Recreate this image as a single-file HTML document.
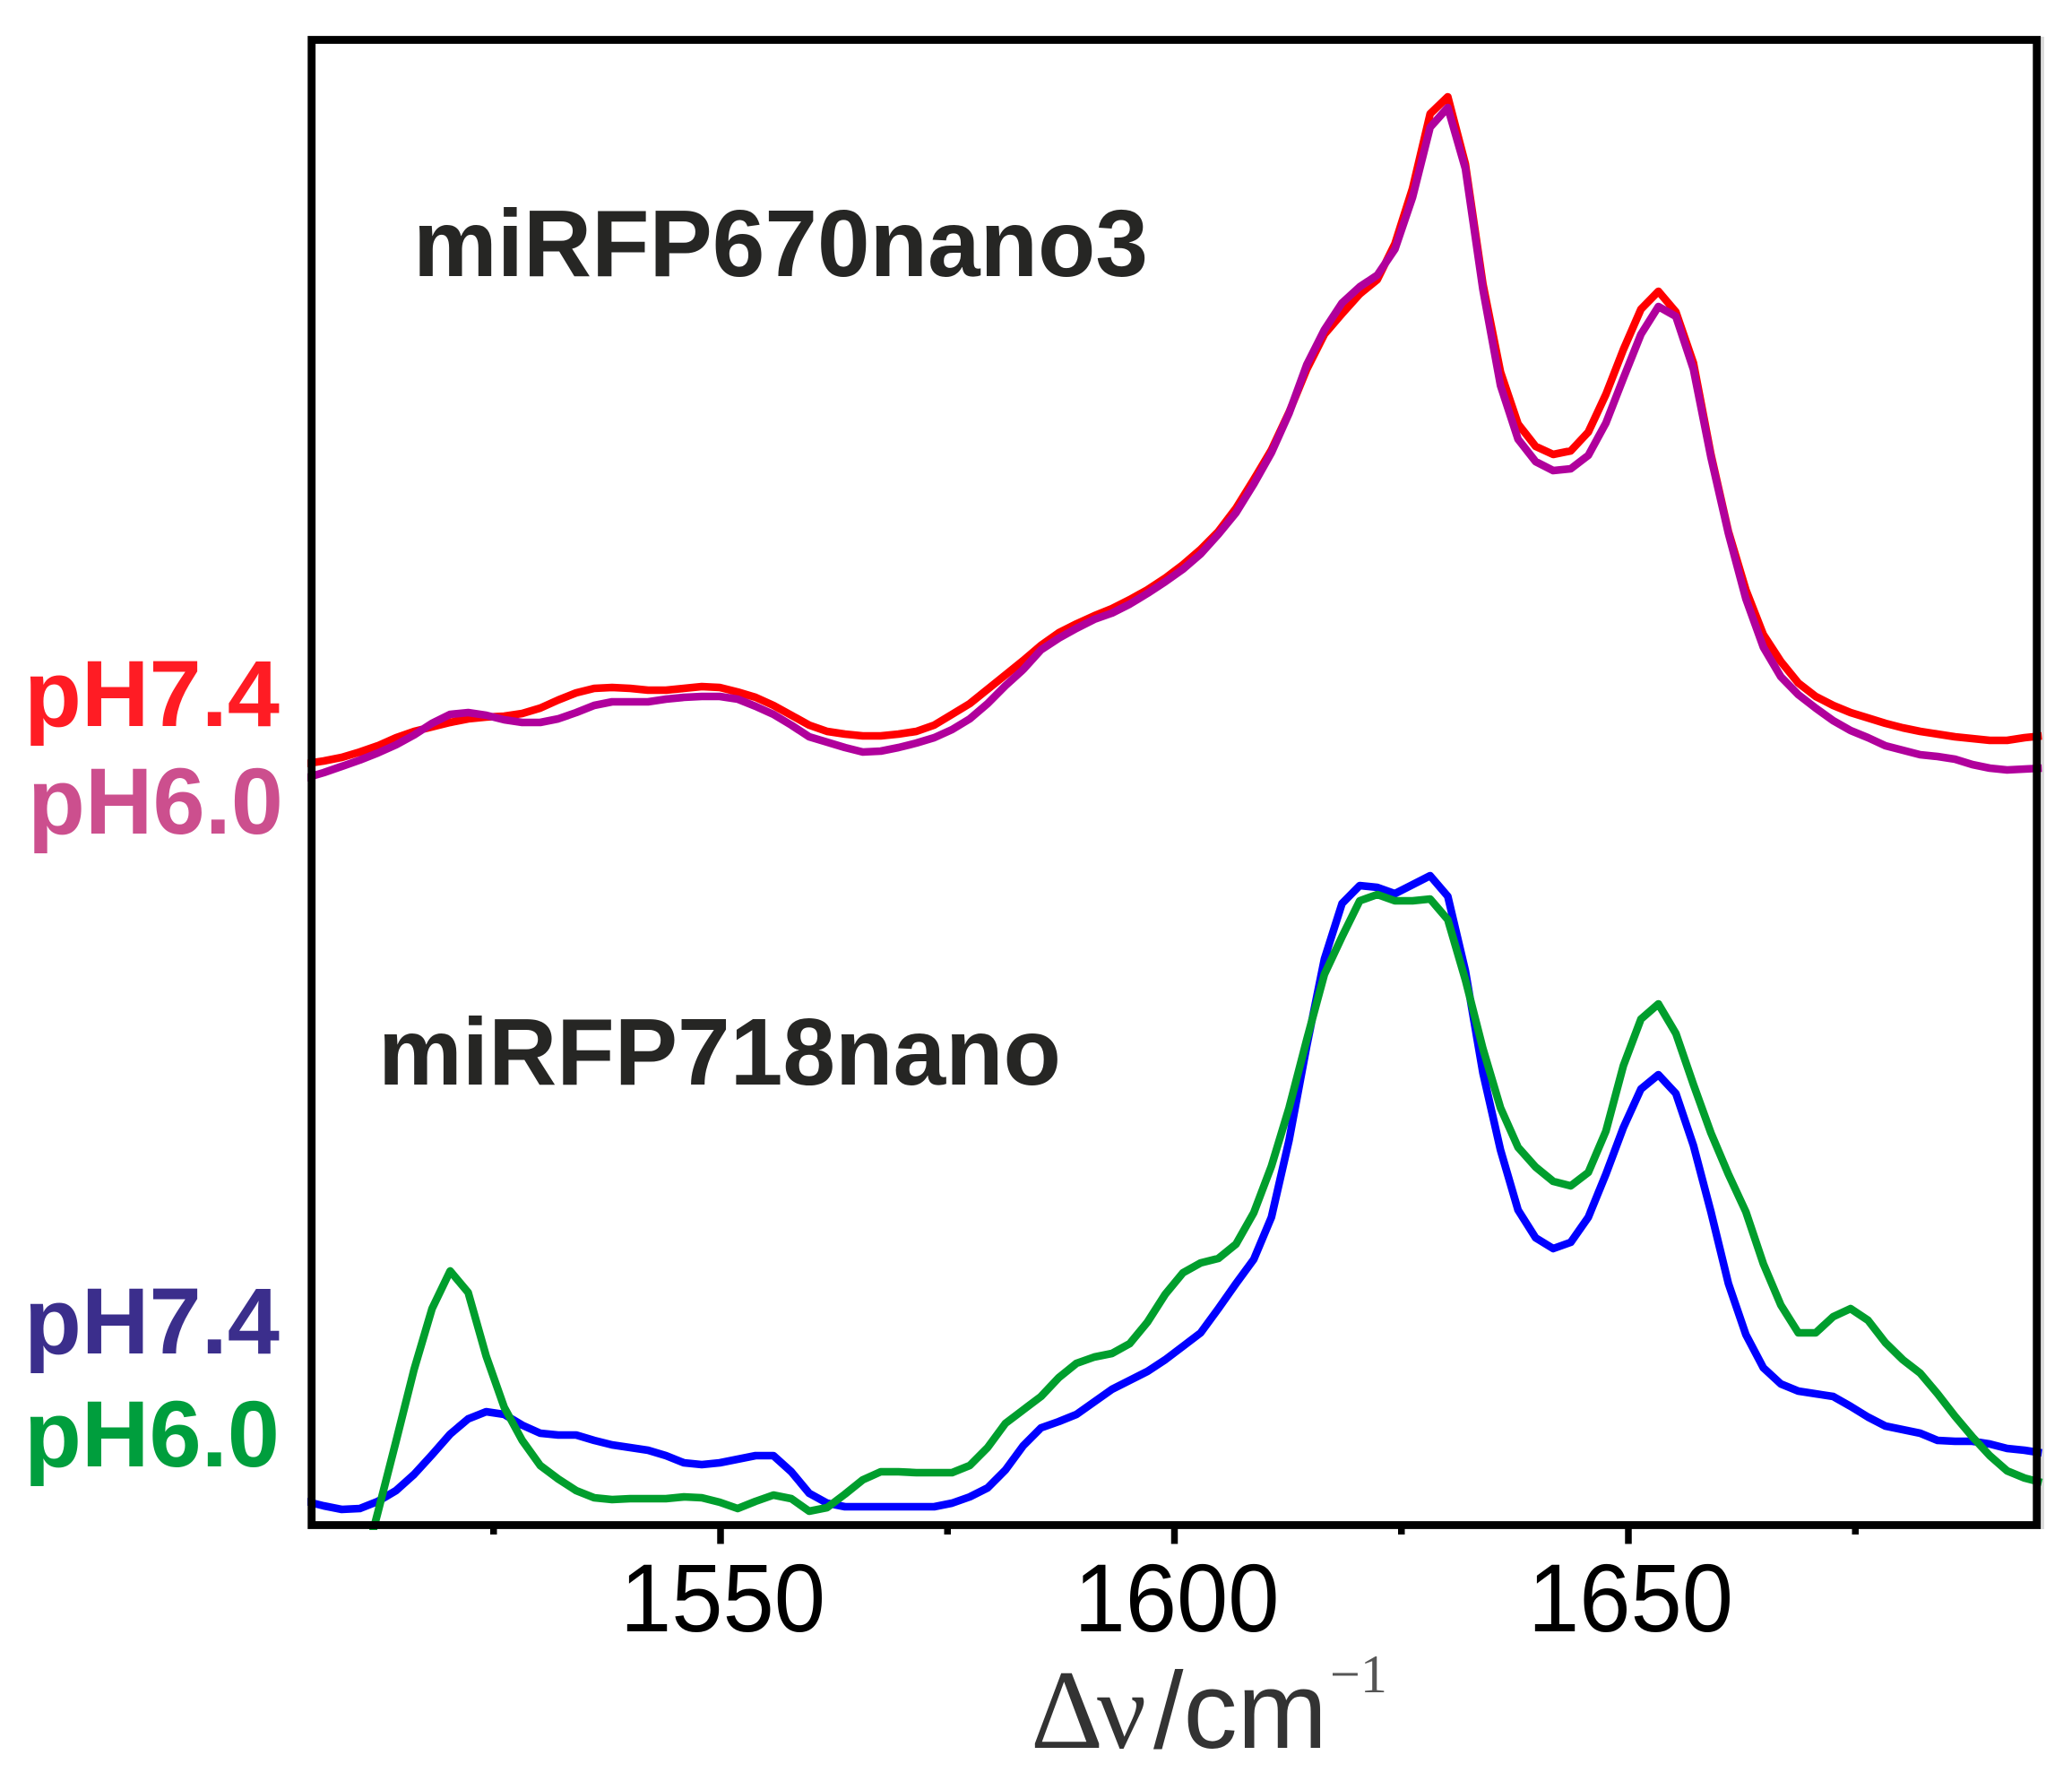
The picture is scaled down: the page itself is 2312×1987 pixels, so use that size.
<!DOCTYPE html>
<html lang="en">
<head>
<meta charset="utf-8">
<title>Raman spectra of miRFP670nano3 and miRFP718nano</title>
<style>
html,body{margin:0;padding:0;background:#fff;}
svg{display:block;}
.sans{font-family:"Liberation Sans",Arial,sans-serif;}
.serif{font-family:"Liberation Serif","Times New Roman",serif;}
</style>
</head>
<body>
<svg id="chart" xmlns="http://www.w3.org/2000/svg" width="2312" height="1987" viewBox="0 0 2312 1987">
  <rect x="0" y="0" width="2312" height="1987" fill="#ffffff"/>
  <defs>
    <clipPath id="plot-clip"><rect x="343" y="0" width="1937" height="1707"/></clipPath>
  </defs>
  <rect x="2276" y="41" width="5" height="1665" fill="#dcdcdc"/>
  <g id="series-layer" clip-path="url(#plot-clip)"></g>
  <rect x="347.7" y="44.5" width="1925" height="1657" fill="none" stroke="#000000" stroke-width="8.8"/>
  <g id="tick-layer"></g>
  <g id="tick-label-layer"></g>

  <text class="sans" x="461" y="308" font-size="106" font-weight="700" fill="#262624" textLength="820" lengthAdjust="spacingAndGlyphs">miRFP670nano3</text>
  <text class="sans" x="422" y="1210" font-size="106" font-weight="700" fill="#262624" textLength="762" lengthAdjust="spacingAndGlyphs">miRFP718nano</text>

  <text class="sans" x="27" y="810" font-size="105" font-weight="700" fill="#ff1c24" textLength="285" lengthAdjust="spacingAndGlyphs">pH7.4</text>
  <text class="sans" x="31" y="930" font-size="105" font-weight="700" fill="#cc4f8e" textLength="285" lengthAdjust="spacingAndGlyphs">pH6.0</text>
  <text class="sans" x="27" y="1510" font-size="105" font-weight="700" fill="#3b2e8c" textLength="285" lengthAdjust="spacingAndGlyphs">pH7.4</text>
  <text class="sans" x="27" y="1636" font-size="105" font-weight="700" fill="#009e3d" textLength="285" lengthAdjust="spacingAndGlyphs">pH6.0</text>

  <g fill="#333333">
    <text class="serif" x="1150" y="1950" font-size="126">Δ</text>
    <text class="serif" x="1224" y="1950" font-size="122">ν</text>
    <text class="sans" x="1287" y="1950" font-size="122" textLength="194" lengthAdjust="spacingAndGlyphs">/cm</text>
    <text class="serif" x="1484" y="1888" font-size="60" fill="#555555">−1</text>
  </g>
</svg>
<script>
const wavenumbers = [1504.29,1506.29,1508.28,1510.27,1512.26,1514.25,1516.24,1518.22,1520.22,1522.20,
1524.19,1526.17,1528.15,1530.14,1532.11,1534.10,1536.08,1538.06,1540.04,1542.01,
1543.99,1545.96,1547.94,1549.91,1551.89,1553.86,1555.82,1557.80,1559.76,1561.74,
1563.70,1565.67,1567.64,1569.61,1571.57,1573.53,1575.50,1577.45,1579.42,1581.38,
1583.34,1585.30,1587.26,1589.21,1591.16,1593.12,1595.07,1597.03,1598.98,1600.94,
1602.88,1604.84,1606.78,1608.74,1610.68,1612.63,1614.57,1616.52,1618.46,1620.40,
1622.34,1624.28,1626.23,1628.16,1630.11,1632.04,1633.98,1635.91,1637.85,1639.78,
1641.72,1643.65,1645.59,1647.52,1649.45,1651.38,1653.31,1655.23,1657.17,1659.09,
1661.02,1662.94,1664.87,1666.79,1668.72,1670.63,1672.56,1674.47,1676.40,1678.31,
1680.23,1682.14,1684.06,1685.97,1687.89,1689.80,1691.72,1693.63,1695.54];

const nano3Ph74 = [85.0,85.3,85.7,86.3,87.0,87.9,88.6,89.1,89.6,90.0,
90.2,90.3,90.6,91.2,92.1,92.9,93.4,93.5,93.4,93.2,
93.2,93.4,93.6,93.5,93.0,92.4,91.5,90.4,89.3,88.6,
88.3,88.1,88.1,88.3,88.6,89.3,90.5,91.7,93.3,94.9,
96.5,98.2,99.6,100.6,101.5,102.3,103.3,104.4,105.7,107.2,
108.9,110.9,113.5,116.7,120.0,124.2,129.0,132.9,135.2,137.4,
139.0,143.0,149.2,157.5,159.4,151.9,138.5,128.7,122.9,120.4,
119.5,119.9,122.0,126.2,131.2,135.7,137.7,135.4,129.7,119.5,
110.9,104.4,99.4,96.4,94.0,92.5,91.5,90.7,90.1,89.5,
89.0,88.6,88.3,88.0,87.8,87.6,87.6,87.9,88.1];

const nano3Ph60 = [83.4,84.0,84.7,85.4,86.2,87.1,88.2,89.5,90.5,90.7,
90.4,89.9,89.6,89.6,90.0,90.7,91.5,91.9,91.9,91.9,
92.2,92.4,92.5,92.5,92.2,91.4,90.5,89.3,88.0,87.4,
86.8,86.3,86.4,86.8,87.3,87.9,88.8,90.0,91.7,93.7,
95.5,97.7,99.0,100.1,101.1,101.8,102.8,104.0,105.3,106.7,
108.4,110.6,113.0,116.2,119.7,124.1,129.5,133.4,136.4,138.2,
139.5,142.4,148.2,156.0,158.2,151.4,137.9,127.2,121.2,118.7,
117.7,117.9,119.4,123.0,128.0,132.9,136.0,134.9,129.0,119.2,
110.7,103.4,98.0,94.7,92.7,91.2,89.8,88.7,87.9,87.0,
86.5,86.0,85.8,85.5,84.9,84.5,84.3,84.4,84.5];

const nanoPh74 = [2.7,2.2,1.8,1.9,2.7,3.9,5.7,7.9,10.2,11.9,
12.7,12.4,11.2,10.3,10.1,10.1,9.5,9.0,8.7,8.4,
7.8,7.0,6.8,7.0,7.4,7.8,7.8,6.0,3.6,2.5,
2.1,2.1,2.1,2.1,2.1,2.1,2.5,3.2,4.2,6.2,
8.9,10.9,11.6,12.4,13.8,15.2,16.2,17.2,18.5,20.0,
21.5,24.2,27.0,29.7,34.4,43.0,53.5,63.2,69.4,71.4,
71.2,70.5,71.5,72.5,70.2,61.9,50.5,41.9,35.2,32.1,
30.9,31.6,34.4,39.2,44.4,48.7,50.3,48.2,42.4,35.0,
27.0,21.3,17.6,15.8,15.0,14.7,14.4,13.3,12.1,11.1,
10.7,10.3,9.5,9.4,9.4,9.1,8.6,8.4,8.1];

const nanoPh60 = [-10.0,-10.0,-8.5,-6.2,1.5,9.4,17.4,24.2,28.4,26.0,
18.9,13.2,9.5,6.7,5.2,3.9,3.1,2.9,3.0,3.0,
3.0,3.2,3.1,2.6,1.9,2.7,3.4,3.0,1.6,2.0,
3.5,5.1,6.0,6.0,5.9,5.9,5.9,6.7,8.7,11.4,
12.9,14.4,16.5,18.1,18.8,19.2,20.3,22.7,25.8,28.2,
29.3,29.8,31.4,34.9,40.1,46.6,54.2,61.5,65.7,69.7,
70.4,69.7,69.7,69.9,67.6,60.9,53.2,46.6,42.2,40.0,
38.4,37.9,39.4,44.0,51.3,56.5,58.2,54.9,49.2,43.8,
39.2,35.0,29.2,24.6,21.5,21.5,23.3,24.2,22.9,20.4,
18.5,17.0,14.7,12.2,9.9,7.8,6.1,5.3,4.8];

const majorTicks = [1550, 1600, 1650];
const minorTicks = [1525, 1575, 1625, 1675];
const tickLabels = ["1550", "1600", "1650"];

const SVG_NS = "http://www.w3.org/2000/svg";

function xScale(wn) {
  return 804 + (wn - 1550) * 10.13;
}
function yScale(v) {
  return 1702 - v * 10;
}

function drawSeries(values, color, name) {
  const line = document.createElementNS(SVG_NS, "polyline");
  const pts = values.map(function (v, i) {
    return xScale(wavenumbers[i]).toFixed(1) + "," + yScale(v).toFixed(1);
  });
  line.setAttribute("points", pts.join(" "));
  line.setAttribute("fill", "none");
  line.setAttribute("stroke", color);
  line.setAttribute("stroke-width", "8.6");
  line.setAttribute("stroke-linejoin", "round");
  
  
  document.getElementById("series-layer").appendChild(line);
}

drawSeries(nano3Ph74, "#ff0000", "line-mirfp670nano3-ph74");
drawSeries(nano3Ph60, "#b0009c", "line-mirfp670nano3-ph60");
drawSeries(nanoPh74, "#0000ff", "line-mirfp718nano-ph74");
drawSeries(nanoPh60, "#009e2d", "line-mirfp718nano-ph60");

function drawTick(wn, bottom, name) {
  const t = document.createElementNS(SVG_NS, "line");
  t.setAttribute("x1", xScale(wn));
  t.setAttribute("x2", xScale(wn));
  t.setAttribute("y1", 1702);
  t.setAttribute("y2", bottom);
  t.setAttribute("stroke", "#000000");
  t.setAttribute("stroke-width", "7.5");
  
  
  document.getElementById("tick-layer").appendChild(t);
}

majorTicks.forEach(function (wn, i) {
  drawTick(wn, 1722.5, "major-tick-" + wn);
  const label = document.createElementNS(SVG_NS, "text");
  label.setAttribute("x", xScale(wn) - 112);
  label.setAttribute("y", 1820);
  label.setAttribute("font-size", "108");
  label.setAttribute("fill", "#000000");
  label.setAttribute("class", "sans");
  label.setAttribute("textLength", "229");
  label.setAttribute("lengthAdjust", "spacingAndGlyphs");
  
  
  label.textContent = tickLabels[i];
  document.getElementById("tick-label-layer").appendChild(label);
});

minorTicks.forEach(function (wn) {
  drawTick(wn, 1712, "minor-tick-" + wn);
});
</script>
</body>
</html>
